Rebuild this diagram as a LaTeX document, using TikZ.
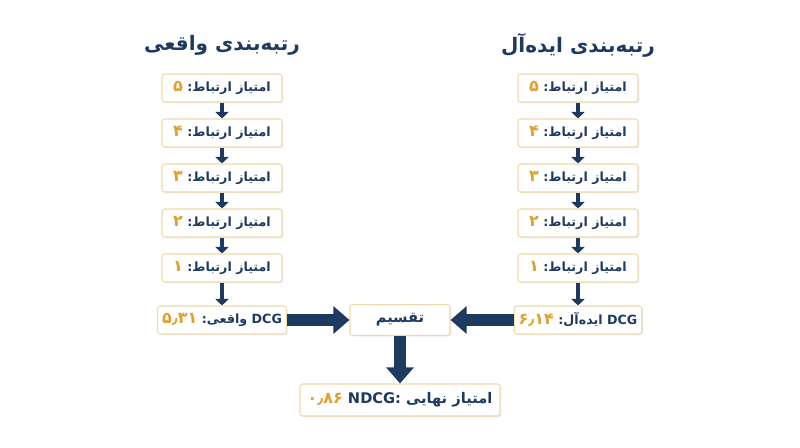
\documentclass[tikz,border=0pt]{standalone}
\usepackage{fontspec}
\newfontfamily\fa[Script=Arabic]{DejaVu Sans}
\TeXXeTstate=1
\usetikzlibrary{arrows.meta,shadows}
\definecolor{navy}{HTML}{1F3A60}
\definecolor{gold}{HTML}{E0A02E}
\definecolor{edge}{HTML}{F0D9AA}
\newcommand{\rt}[1]{\hbox{\beginR #1\endR}}
\newcommand{\num}[1]{\hbox{\color{gold}\bfseries\large\beginR #1\endR}}
\begin{document}
\begin{tikzpicture}[x=0.75pt,y=-0.75pt,
 box/.style={draw=edge,line width=0.8pt,fill=white,rounded corners=2pt,minimum width=90pt,minimum height=21pt,text=navy,font=\fa\bfseries\fontsize{9.5}{11}\selectfont,drop shadow={opacity=0.15,shadow xshift=1pt,shadow yshift=-1pt}},
 sm/.style={draw=navy,line width=3pt,-{Triangle[length=5pt,width=10pt]}},
 big/.style={draw=navy,line width=9pt,-{Triangle[length=12pt,width=20pt]}},
 ttl/.style={font=\fa\bfseries\fontsize{15}{18}\selectfont,text=navy}]
\path[use as bounding box] (0,0) rectangle (800,447);
\node[ttl] (tl) at (222,45) {\rt{رتبه‌بندی واقعی}};
\node[ttl] (tr) at (578,45) {\rt{رتبه‌بندی ایده‌آل}};
\foreach \s/\x in {L/222,R/578}{
 \node[box] (\s1) at (\x,88) {\num{۵}\ \rt{امتیاز ارتباط:}};
 \node[box] (\s2) at (\x,133) {\num{۴}\ \rt{امتیاز ارتباط:}};
 \node[box] (\s3) at (\x,178) {\num{۳}\ \rt{امتیاز ارتباط:}};
 \node[box] (\s4) at (\x,223) {\num{۲}\ \rt{امتیاز ارتباط:}};
 \node[box] (\s5) at (\x,268) {\num{۱}\ \rt{امتیاز ارتباط:}};
 \foreach \a/\b in {1/2,2/3,3/4,4/5}{\draw[sm] (\s\a) -- (\s\b);}
}
\node[box] (L6) at (222,320) {\num{۵٫۳۱}\ \rt{DCG واقعی:}};
\node[box] (R6) at (578,320) {\num{۶٫۱۴}\ \rt{DCG ایده‌آل:}};
\draw[sm] (L5) -- (L6); \draw[sm] (R5) -- (R6);
\node[box,minimum width=75pt,minimum height=23pt,font=\fa\bfseries\fontsize{11}{13}\selectfont] (D) at (400,320) {\rt{تقسیم}};
\node[box,minimum width=150pt,minimum height=24pt,font=\fa\bfseries\fontsize{11}{13}\selectfont] (F) at (400,400) {\num{۰٫۸۶}\ NDCG:\ \rt{امتیاز نهایی}};
\draw[big] (L6) -- (D);
\draw[big] (R6) -- (D);
\draw[big] (D) -- (F);
\end{tikzpicture}
\end{document}
